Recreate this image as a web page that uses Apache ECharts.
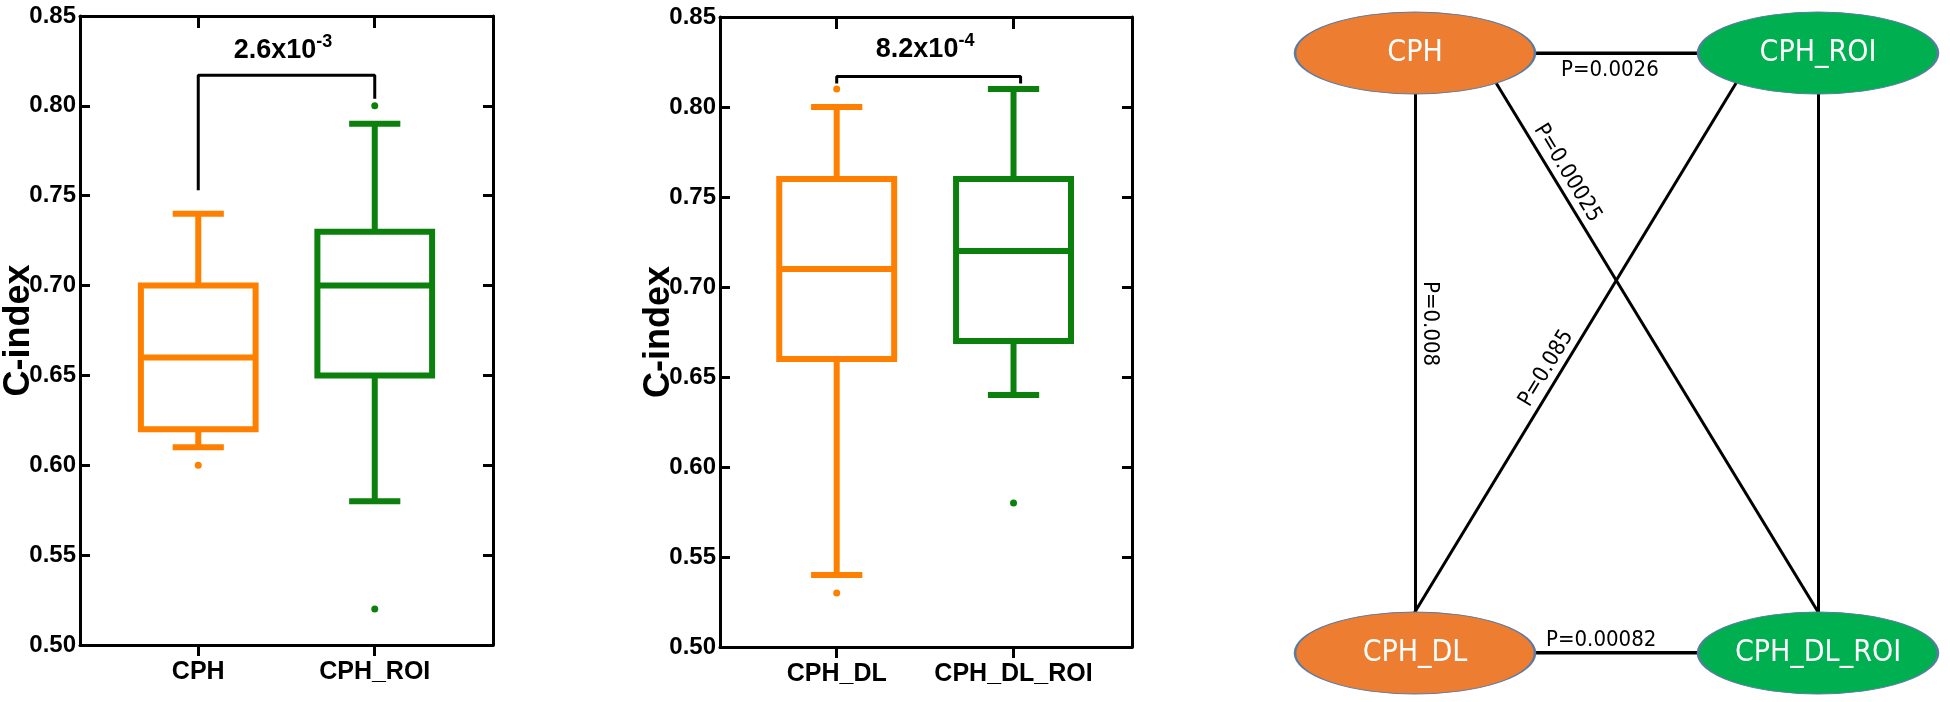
<!DOCTYPE html>
<html>
<head>
<meta charset="utf-8">
<script src="https://cdn.jsdelivr.net/npm/echarts@6/dist/echarts.min.js"></script>
<style>
  html, body { margin: 0; padding: 0; background: #fff; }
  #main { width: 1950px; height: 702px; }
</style>
</head>
<body>
<div id="main"></div>
<script>
    // left panel: CPH vs CPH_ROI
    var leftGroups = ['CPH', 'CPH_ROI'];
    // [lower whisker, Q1, median, Q3, upper whisker]
    var leftStats = [
        [0.61, 0.62, 0.66, 0.70, 0.74],
        [0.58, 0.65, 0.70, 0.73, 0.79]
    ];
    var leftOutliers = [[0, 0.60], [1, 0.80], [1, 0.52]];
    var leftBracket = [[0, 0.753], [0, 0.817], [1, 0.817], [1, 0.804]];
    var leftPText = ['2.6x10', '-3'];
    var leftPAt = [0.48, 0.831];

    // middle panel: CPH_DL vs CPH_DL_ROI
    var midGroups = ['CPH_DL', 'CPH_DL_ROI'];
    var midStats = [
        [0.54, 0.66, 0.71, 0.76, 0.80],
        [0.64, 0.67, 0.72, 0.76, 0.81]
    ];
    var midOutliers = [[0, 0.81], [0, 0.53], [1, 0.58]];
    var midBracket = [[0, 0.813], [0, 0.817], [1.04, 0.817], [1.04, 0.813]];
    var midPText = ['8.2x10', '-4'];
    var midPAt = [0.5, 0.832];

    // right panel: pairwise p-values between the four models
    var nodeNames = ['CPH', 'CPH_ROI', 'CPH_DL', 'CPH_DL_ROI'];
    var nodeCol = [0, 1, 0, 1];
    var nodeRow = [1, 1, 0, 0];
    var edgeSource = ['CPH', 'CPH', 'CPH', 'CPH_ROI', 'CPH_ROI', 'CPH_DL'];
    var edgeTarget = ['CPH_ROI', 'CPH_DL', 'CPH_DL_ROI', 'CPH_DL', 'CPH_DL_ROI', 'CPH_DL_ROI'];
    var edgeP = ['P=0.0026', 'P=0.008', 'P=0.00025', 'P=0.085', 'P=0.003', 'P=0.00082'];

    var BOLD_FONT = "'Liberation Sans', Arial, sans-serif";
    var FONT = "'DejaVu Sans Condensed', 'Liberation Sans', sans-serif";
    var boxColors = ['#FF8000', '#0C800C'];
    var nodeColors = {CPH: '#ED7D31', CPH_ROI: '#00B050', CPH_DL: '#ED7D31', CPH_DL_ROI: '#00B050'};

    // where each connector leaves / meets the ellipse, and where its label sits
    var edgeLook = [
        {pos: 'insideStartBottom', dist: [146, 6], from: [0, 0], to: [0, 0]},
        {pos: 'insideStartTop', dist: [228, 4], from: [0, 0], to: [0, 0]},
        {pos: 'insideStartTop', dist: [94, 3], from: [0.156, 0], to: [0.062, 0]},
        {pos: 'insideStartTop', dist: [335, 3], from: [-0.158, 0], to: [-0.062, 0]},
        {pos: 'insideStartTop', dist: [228, 4], from: [0, 0], to: [0, 0]},
        {pos: 'insideStartTop', dist: [131, 2], from: [0, 0], to: [0, 0]}
    ];

    function boxRender(params, api) {
        var x = api.value(0);
        var pLo = api.coord([x, api.value(1)]);
        var pQ1 = api.coord([x, api.value(2)]);
        var pMed = api.coord([x, api.value(3)]);
        var pQ3 = api.coord([x, api.value(4)]);
        var pHi = api.coord([x, api.value(5)]);
        var half = api.size([0.65, 0])[0] / 2;
        var cap = api.size([0.29, 0])[0] / 2;
        var cx = pMed[0];
        var st = {stroke: boxColors[params.dataIndex], lineWidth: 6, fill: 'rgba(0,0,0,0)'};
        return {
            type: 'group',
            children: [
                {type: 'rect', shape: {x: cx - half, y: pQ3[1], width: half * 2, height: pQ1[1] - pQ3[1]}, style: st},
                {type: 'line', shape: {x1: cx - half, y1: pMed[1], x2: cx + half, y2: pMed[1]}, style: st},
                {type: 'line', shape: {x1: cx, y1: pQ3[1], x2: cx, y2: pHi[1]}, style: st},
                {type: 'line', shape: {x1: cx, y1: pQ1[1], x2: cx, y2: pLo[1]}, style: st},
                {type: 'line', shape: {x1: cx - cap, y1: pHi[1], x2: cx + cap, y2: pHi[1]}, style: st},
                {type: 'line', shape: {x1: cx - cap, y1: pLo[1], x2: cx + cap, y2: pLo[1]}, style: st}
            ]
        };
    }

    function xBottom(grid, names, lo, hi) {
        return {
            type: 'value', gridIndex: grid, min: lo, max: hi, position: 'bottom',
            splitLine: {show: false},
            axisLine: {show: true, onZero: false, lineStyle: {color: '#000', width: 3}},
            axisTick: {show: true, customValues: [0, 1], length: 11, lineStyle: {color: '#000', width: 3}},
            axisLabel: {
                show: true, customValues: [0, 1], margin: 15,
                formatter: function (v) { return names[Math.round(v)]; },
                color: '#000', fontSize: 25, fontWeight: 'bold', fontFamily: BOLD_FONT
            }
        };
    }
    function xTop(grid, lo, hi) {
        return {
            type: 'value', gridIndex: grid, min: lo, max: hi, position: 'top',
            splitLine: {show: false},
            axisLine: {show: true, onZero: false, lineStyle: {color: '#000', width: 3}},
            axisTick: {show: true, inside: true, customValues: [0, 1], length: 12, lineStyle: {color: '#000', width: 3}},
            axisLabel: {show: false}
        };
    }
    function yLeft(grid) {
        return {
            type: 'value', gridIndex: grid, min: 0.5, max: 0.85, interval: 0.05,
            name: 'C-index', nameLocation: 'middle', nameGap: 43, nameMoveOverlap: false,
            nameTextStyle: {color: '#000', fontSize: 36, fontWeight: 'bold', fontFamily: BOLD_FONT},
            splitLine: {show: false},
            axisLine: {show: true, onZero: false, lineStyle: {color: '#000', width: 3}},
            axisTick: {show: true, inside: true, length: 10, lineStyle: {color: '#000', width: 3}},
            axisLabel: {
                margin: 4, color: '#000', fontSize: 24, fontWeight: 'bold', fontFamily: BOLD_FONT,
                formatter: function (v) { return v.toFixed(2); }
            }
        };
    }
    function yRight(grid) {
        return {
            type: 'value', gridIndex: grid, min: 0.5, max: 0.85, interval: 0.05, position: 'right',
            splitLine: {show: false},
            axisLine: {show: true, onZero: false, lineStyle: {color: '#000', width: 3}},
            axisTick: {show: true, inside: true, length: 10, lineStyle: {color: '#000', width: 3}},
            axisLabel: {show: false}
        };
    }

    function panelSeries(axis, stats, outliers, bracket, pText, pAt) {
        return [
            {
                type: 'custom', xAxisIndex: axis, yAxisIndex: axis,
                renderItem: boxRender,
                encode: {x: 0, y: [1, 2, 3, 4, 5]},
                data: stats.map(function (s, i) { return [i].concat(s); }),
                z: 3
            },
            {
                type: 'scatter', xAxisIndex: axis, yAxisIndex: axis, symbolSize: 7,
                data: outliers.map(function (o) {
                    return {value: o, itemStyle: {color: boxColors[o[0]], opacity: 1}};
                }),
                z: 4
            },
            {
                type: 'line', xAxisIndex: axis, yAxisIndex: axis, symbol: 'none',
                lineStyle: {color: '#000', width: 3}, data: bracket, z: 4
            },
            {
                type: 'scatter', xAxisIndex: axis, yAxisIndex: axis, symbolSize: 1,
                itemStyle: {color: 'rgba(0,0,0,0)', opacity: 1},
                data: [pAt],
                label: {
                    show: true, position: 'inside',
                    formatter: '{b|' + pText[0] + '}{s|' + pText[1] + '}',
                    rich: {
                        b: {fontSize: 27, fontWeight: 'bold', color: '#000', fontFamily: BOLD_FONT, lineHeight: 34},
                        s: {fontSize: 18, fontWeight: 'bold', color: '#000', fontFamily: BOLD_FONT, verticalAlign: 'top', lineHeight: 20}
                    }
                }
            }
        ];
    }

    function nodePos(name) {
        var i = nodeNames.indexOf(name);
        return [nodeCol[i], nodeRow[i]];
    }

    var edgeData = edgeP.map(function (p, i) {
        var a = nodePos(edgeSource[i]);
        var b = nodePos(edgeTarget[i]);
        var look = edgeLook[i];
        var flat = a[1] === b[1];
        return {
            name: p,
            coords: [[a[0] + look.from[0], a[1] + look.from[1]], [b[0] + look.to[0], b[1] + look.to[1]]],
            lineStyle: {width: flat ? 4 : 3},
            label: {position: look.pos, distance: look.dist}
        };
    });

    var option = {
        animation: false,
        backgroundColor: '#fff',
        grid: [
            {left: 80, top: 16, width: 413, height: 629, outerBoundsMode: 'none'},
            {left: 720, top: 17, width: 412, height: 630, outerBoundsMode: 'none'},
            {left: 1415, top: 53, width: 403, height: 600, outerBoundsMode: 'none'}
        ],
        xAxis: [
            xBottom(0, leftGroups, -0.67, 1.67),
            xTop(0, -0.67, 1.67),
            xBottom(1, midGroups, -0.66, 1.67),
            xTop(1, -0.66, 1.67),
            {type: 'value', gridIndex: 2, min: 0, max: 1, show: false}
        ],
        yAxis: [
            yLeft(0), yRight(0), yLeft(1), yRight(1),
            {type: 'value', gridIndex: 2, min: 0, max: 1, show: false}
        ],
        series: panelSeries(0, leftStats, leftOutliers, leftBracket, leftPText, leftPAt)
            .concat(panelSeries(2, midStats, midOutliers, midBracket, midPText, midPAt))
            .concat([
                {
                    type: 'lines', coordinateSystem: 'cartesian2d', xAxisIndex: 4, yAxisIndex: 4,
                    lineStyle: {color: '#000', width: 3, opacity: 1},
                    label: {
                        show: true, formatter: '{b}', color: '#000',
                        fontSize: 22, fontFamily: FONT
                    },
                    data: edgeData,
                    z: 2
                },
                {
                    type: 'scatter', xAxisIndex: 4, yAxisIndex: 4,
                    symbol: 'path://M0,1A1,1,0,1,1,2,1A1,1,0,1,1,0,1Z',
                    symbolSize: [240, 82],
                    data: nodeNames.map(function (n, i) {
                        return {
                            name: n, value: [nodeCol[i], nodeRow[i]],
                            itemStyle: {color: nodeColors[n], opacity: 1, borderColor: '#5A7BA3', borderWidth: 1.5}
                        };
                    }),
                    label: {
                        show: true, position: 'inside', formatter: '{b}',
                        color: '#fff', fontSize: 30, fontFamily: FONT
                    },
                    z: 5
                }
            ])
    };

    var myChart = echarts.init(document.getElementById('main'));
    myChart.setOption(option);
</script>
</body>
</html>
